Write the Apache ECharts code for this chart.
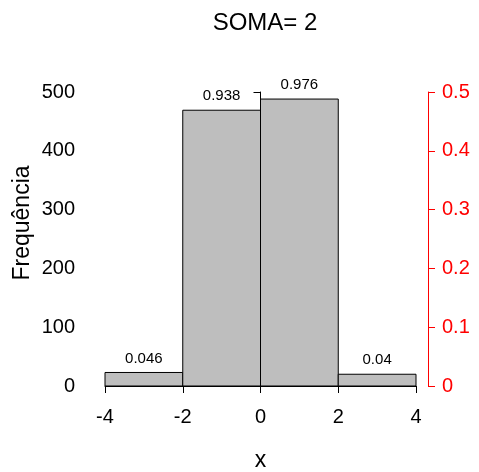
<!DOCTYPE html>
<html>
<head>
<meta charset="utf-8">
<script src="https://cdn.jsdelivr.net/npm/echarts@6/dist/echarts.min.js"></script>
<style>html,body{margin:0;padding:0;background:#fff;}#c{width:479px;height:472px;}</style>
</head>
<body>
<div id="c"></div>
<script>
var binStarts = [-4, -2, 0, 2];
var binEnds = [-2, 0, 2, 4];
var counts = [23, 469, 488, 20];
var barLabels = ['0.046', '0.938', '0.976', '0.04'];
var xTicks = [-4, -2, 0, 2, 4];

var FONT = '"Liberation Sans", Arial, Helvetica, sans-serif';
var chart = echarts.init(document.getElementById('c'), null, {renderer: 'canvas'});
var data = binStarts.map(function (s, i) { return [s, binEnds[i], counts[i], barLabels[i]]; });

chart.setOption({
  animation: false,
  backgroundColor: '#fff',
  title: {
    text: 'SOMA= 2', left: 260, top: 6, textAlign: 'center',
    textStyle: {fontFamily: FONT, fontSize: 24, fontWeight: 'normal', color: '#000'}
  },
  graphic: [{
    type: 'text', x: 23, y: 223, rotation: Math.PI / 2,
    style: {text: 'Frequência', fontFamily: FONT, fontSize: 23, fill: '#000',
      align: 'center', verticalAlign: 'middle'}
  }],
  grid: {left: 105, right: 63, top: 92, bottom: 86, containLabel: false, outerBoundsMode: 'none'},
  xAxis: {
    type: 'value', min: -4, max: 4, interval: 2, offset: 13,
    name: 'x', nameLocation: 'middle', nameGap: 50,
    nameTextStyle: {fontFamily: FONT, fontSize: 23, color: '#000'},
    axisLine: {show: true, lineStyle: {color: '#000', width: 1}},
    axisTick: {show: true, length: 7, lineStyle: {color: '#000'}},
    axisLabel: {fontFamily: FONT, fontSize: 20, color: '#000', margin: 8,
      formatter: function (v) { return xTicks.indexOf(v) >= 0 ? String(v) : ''; }},
    splitLine: {show: false}
  },
  yAxis: [{
    type: 'value', min: 0, max: 500, interval: 100, offset: 13, position: 'left',
    axisLine: {show: true, lineStyle: {color: '#000', width: 1}},
    axisTick: {show: true, length: 7, lineStyle: {color: '#000'}},
    axisLabel: {fontFamily: FONT, fontSize: 20, color: '#000', margin: 17},
    splitLine: {show: false}
  }, {
    type: 'value', min: 0, max: 0.5, interval: 0.1, offset: 12, position: 'right',
    axisLine: {show: true, lineStyle: {color: '#ff0000', width: 1}},
    axisTick: {show: true, length: 7, lineStyle: {color: '#ff0000'}},
    axisLabel: {fontFamily: FONT, fontSize: 20, color: '#ff0000', margin: 14},
    splitLine: {show: false}
  }],
  series: [{
    type: 'custom',
    data: data,
    encode: {x: [0, 1], y: 2},
    renderItem: function (params, api) {
      var p0 = api.coord([api.value(0), 0]);
      var p1 = api.coord([api.value(1), api.value(2)]);
      return {
        type: 'rect',
        shape: {x: p0[0], y: p1[1], width: p1[0] - p0[0], height: p0[1] - p1[1]},
        style: {fill: '#bebebe', stroke: '#000', lineWidth: 1},
        textContent: {
          style: {text: barLabels[params.dataIndex], fontFamily: FONT, fontSize: 15, fill: '#000'}
        },
        textConfig: {position: 'top', distance: 6}
      };
    }
  }]
});
</script>
</body>
</html>
